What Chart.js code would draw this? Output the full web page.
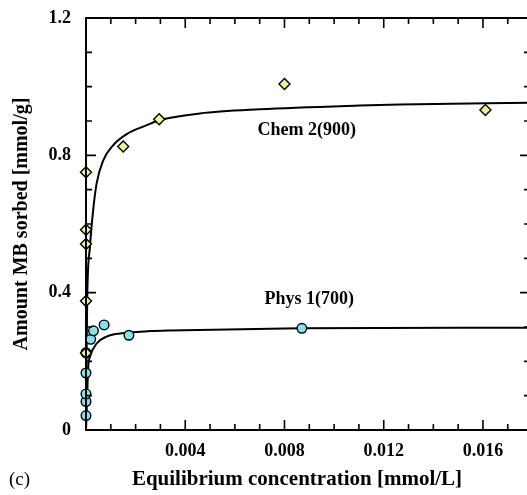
<!DOCTYPE html>
<html>
<head>
<meta charset="utf-8">
<script src="https://cdn.jsdelivr.net/npm/chart.js@4.4.1/dist/chart.umd.min.js"></script>
<style>
  html, body { margin: 0; padding: 0; background: #fff; overflow: hidden; }
  #wrap { width: 537px; height: 495px; }
</style>
</head>
<body>
<div id="wrap"><canvas id="chart" width="537" height="495"></canvas></div>
<script>
// measured points, Chem 2(900)
var chemX = [0, 0, 0, 0, 0, 0.0015, 0.00295, 0.0080, 0.0161];
var chemY = [0.751, 0.583, 0.542, 0.376, 0.224, 0.826, 0.905, 1.008, 0.932];

// measured points, Phys 1(700)
var physX = [0, 0, 0, 0, 0, 0.00019, 0.0003, 0.00073, 0.00173, 0.0087];
var physY = [0.042, 0.083, 0.105, 0.166, 0.225, 0.264, 0.289, 0.306, 0.276, 0.296];

// fitted curves
var chemFitX = [0, 0.00002, 0.00005, 0.00016, 0.00029, 0.00043, 0.0007, 0.0011, 0.00164, 0.00245, 0.00298, 0.00459, 0.0070, 0.01104, 0.01265, 0.0179];
var chemFitY = [0, 0.2, 0.387, 0.534, 0.641, 0.719, 0.786, 0.830, 0.862, 0.888, 0.903, 0.922, 0.934, 0.945, 0.948, 0.953];

var physFitX = [0, 0.00004, 0.00009, 0.00016, 0.00043, 0.00083, 0.00137, 0.00258, 0.00338, 0.00862, 0.0179];
var physFitY = [0, 0.087, 0.184, 0.213, 0.252, 0.272, 0.281, 0.288, 0.290, 0.296, 0.298];

// axis ticks
var xMajor = [0, 0.004, 0.008, 0.012, 0.016];
var xMinor = [0.001, 0.002, 0.003, 0.005, 0.006, 0.007, 0.009, 0.010, 0.011, 0.013, 0.014, 0.015, 0.017];
var yMajor = [0, 0.4, 0.8, 1.2];
var yMinor = [0.1, 0.2, 0.3, 0.5, 0.6, 0.7, 0.9, 1.0, 1.1];

var serif = "'Liberation Serif', 'Times New Roman', serif";

function pairs(xs, ys) {
  return xs.map(function (x, i) { return { x: x, y: ys[i] }; });
}

// frame, inward tick marks and loose text
var framePlugin = {
  id: "frame",
  afterDatasetsDraw: function (chart) {
    var ctx = chart.ctx;
    var a = chart.chartArea;
    var xs = chart.scales.x;
    var ys = chart.scales.y;
    ctx.save();
    ctx.strokeStyle = "#000";
    ctx.lineWidth = 2;
    ctx.strokeRect(a.left, a.top, a.right - a.left, a.bottom - a.top);

    ctx.lineWidth = 1.6;
    function xTick(v, len) {
      var px = xs.getPixelForValue(v);
      ctx.beginPath();
      ctx.moveTo(px, a.bottom); ctx.lineTo(px, a.bottom - len);
      ctx.moveTo(px, a.top); ctx.lineTo(px, a.top + len);
      ctx.stroke();
    }
    function yTick(v, len) {
      var py = ys.getPixelForValue(v);
      ctx.beginPath();
      ctx.moveTo(a.left, py); ctx.lineTo(a.left + len, py);
      ctx.moveTo(a.right, py); ctx.lineTo(a.right - len, py);
      ctx.stroke();
    }
    xMajor.forEach(function (v) { xTick(v, 10); });
    xMinor.forEach(function (v) { xTick(v, 6); });
    yMajor.forEach(function (v) { yTick(v, 10); });
    yMinor.forEach(function (v) { yTick(v, 6); });

    // curve labels
    ctx.fillStyle = "#000";
    ctx.font = "bold 18px " + serif;
    ctx.textAlign = "center";
    ctx.textBaseline = "middle";
    ctx.fillText("Chem 2(900)", xs.getPixelForValue(0.0089), ys.getPixelForValue(0.874));
    ctx.fillText("Phys 1(700)", xs.getPixelForValue(0.0090), ys.getPixelForValue(0.382));

    // x axis title and panel letter
    ctx.font = "bold 21px " + serif;
    ctx.fillText("Equilibrium concentration [mmol/L]", 297, 480);
    ctx.font = "19px " + serif;
    ctx.textAlign = "left";
    ctx.fillText("(c)", 9, 480);
    ctx.restore();
  }
};

var ctx = document.getElementById("chart").getContext("2d");

var myChart = new Chart(ctx, {
  type: "scatter",
  data: {
    datasets: [
      {
        label: "Chem 2(900) data",
        data: pairs(chemX, chemY),
        pointStyle: "rectRot",
        pointRadius: 5.5,
        backgroundColor: "#f4f08a",
        borderColor: "#000",
        borderWidth: 1.4,
        clip: false,
        order: 1,
      },
      {
        label: "Phys 1(700) data",
        data: pairs(physX, physY),
        pointStyle: "circle",
        pointRadius: 4.8,
        backgroundColor: "#80e4ec",
        borderColor: "#000",
        borderWidth: 1.4,
        clip: false,
        order: 2,
      },
      {
        label: "Chem 2(900) fit",
        data: pairs(chemFitX, chemFitY),
        showLine: true,
        pointRadius: 0,
        borderColor: "#000",
        borderWidth: 2,
        cubicInterpolationMode: "monotone",
        order: 3,
      },
      {
        label: "Phys 1(700) fit",
        data: pairs(physFitX, physFitY),
        showLine: true,
        pointRadius: 0,
        borderColor: "#000",
        borderWidth: 2,
        cubicInterpolationMode: "monotone",
        order: 4,
      },
    ],
  },
  options: {
    responsive: false,
    animation: false,
    layout: { padding: { top: 18, right: 1, left: 0, bottom: 0 } },
    plugins: {
      legend: { display: false },
      tooltip: { enabled: false },
    },
    scales: {
      x: {
        type: "linear",
        min: 0,
        max: 0.0179,
        grid: { display: false, drawTicks: false },
        border: { display: false },
        afterFit: function (scale) {
          scale.height = 65;
          scale.paddingLeft = 0;
          scale.paddingRight = 0;
        },
        afterBuildTicks: function (scale) {
          scale.ticks = xMajor.map(function (v) { return { value: v }; });
        },
        ticks: {
          padding: 11,
          color: "#000",
          font: { family: serif, size: 18, weight: "bold" },
          callback: function (v) { return v === 0 ? "" : v.toFixed(3); },
        },
      },
      y: {
        type: "linear",
        min: 0,
        max: 1.2,
        grid: { display: false, drawTicks: false },
        border: { display: false },
        afterFit: function (scale) {
          scale.width = 86;
          scale.paddingTop = 0;
          scale.paddingBottom = 0;
        },
        afterBuildTicks: function (scale) {
          scale.ticks = yMajor.map(function (v) { return { value: v }; });
        },
        ticks: {
          padding: 15,
          color: "#000",
          font: { family: serif, size: 18, weight: "bold" },
          callback: function (v) { return v === 0 ? "0" : v.toFixed(1); },
        },
        title: {
          display: true,
          text: "Amount MB sorbed [mmol/g]",
          color: "#000",
          font: { family: serif, size: 20, weight: "bold" },
          padding: { top: 10, bottom: 0 },
        },
      },
    },
  },
  plugins: [framePlugin],
});
</script>
</body>
</html>
